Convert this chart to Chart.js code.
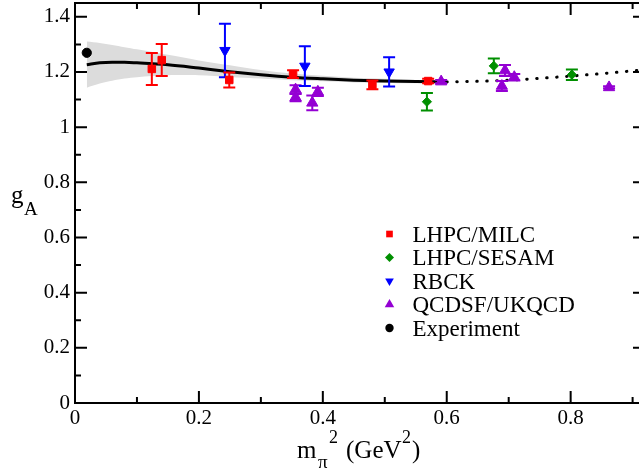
<!DOCTYPE html>
<html>
<head>
<meta charset="utf-8">
<script src="https://cdn.jsdelivr.net/npm/chart.js@4.4.0/dist/chart.umd.min.js"></script>
<style>
  html, body { margin: 0; padding: 0; background: #fff; overflow: hidden; }
</style>
</head>
<body>
<canvas id="gaChart" width="660" height="470"></canvas>
<script>
// ---- data ----
const milcX = [0.124, 0.140, 0.249, 0.352, 0.480, 0.570];
const milcY = [1.211, 1.243, 1.171, 1.192, 1.153, 1.167];
const milcErr = [0.058, 0.058, 0.027, 0.014, 0.016, 0.008];

const sesamX = [0.568, 0.676, 0.802];
const sesamY = [1.092, 1.222, 1.190];
const sesamErr = [0.032, 0.027, 0.019];

const rbckX = [0.242, 0.371, 0.507];
const rbckY = [1.278, 1.221, 1.200];
const rbckErr = [0.097, 0.072, 0.053];

const qcdsfX = [0.356, 0.356, 0.383, 0.392, 0.591, 0.689, 0.694, 0.709, 0.862];
const qcdsfY = [1.136, 1.108, 1.088, 1.128, 1.165, 1.149, 1.205, 1.181, 1.144];
const qcdsfErr = [0.016, 0.014, 0.027, 0.015, 0.006, 0.018, 0.020, 0.012, 0.004];

const expX = [0.019];
const expY = [1.2695];

// chiral fit (solid) and its error band
const fitX = [0.019, 0.04, 0.06, 0.08, 0.1, 0.15, 0.2, 0.25, 0.3, 0.35, 0.4, 0.45, 0.5, 0.55, 0.6];
const fitY = [1.226, 1.233, 1.235, 1.235, 1.233, 1.226, 1.214, 1.201, 1.19, 1.181, 1.175, 1.170, 1.167, 1.165, 1.164];
const bandHi = [1.31, 1.305, 1.298, 1.29, 1.282, 1.262, 1.242, 1.224, 1.207, 1.194, 1.186, 1.179, 1.175, 1.171, 1.168];
const bandLo = [1.143, 1.158, 1.168, 1.176, 1.181, 1.188, 1.188, 1.182, 1.176, 1.170, 1.166, 1.162, 1.160, 1.159, 1.160];

// extrapolation (dotted)
const extX = [0.6, 0.65, 0.7, 0.75, 0.8, 0.85, 0.9, 0.92];
const extY = [1.164, 1.166, 1.170, 1.177, 1.185, 1.194, 1.204, 1.208];

// axis ticks
const xTickLabels = [0, 0.2, 0.4, 0.6, 0.8];
const xMinor = [0.1, 0.3, 0.5, 0.7, 0.9];
const yTickLabels = [0, 0.2, 0.4, 0.6, 0.8, 1, 1.2, 1.4];
const yMinor = [0.1, 0.3, 0.5, 0.7, 0.9, 1.1, 1.3];

const FONT = "'Liberation Serif', 'Times New Roman', serif";

function pts(xs, ys) {
  return xs.map((x, i) => ({ x: x, y: ys[i] }));
}

function fmt(v) {
  return String(Math.round(v * 10) / 10);
}

// error bars, drawn right after each marker dataset
const errorBars = {
  id: 'errorBars',
  afterDatasetDraw(chart, args) {
    const ds = chart.data.datasets[args.index];
    if (!ds.errors) return;
    const ctx = chart.ctx, xs = chart.scales.x, ys = chart.scales.y;
    ctx.save();
    ctx.strokeStyle = ds.borderColor;
    ctx.lineWidth = 2;
    ds.data.forEach((p, i) => {
      const e = ds.errors[i];
      if (!e) return;
      const px = xs.getPixelForValue(p.x);
      const top = ys.getPixelForValue(p.y + e);
      const bot = ys.getPixelForValue(p.y - e);
      ctx.beginPath();
      ctx.moveTo(px, top); ctx.lineTo(px, bot);
      ctx.moveTo(px - 6, top); ctx.lineTo(px + 6, top);
      ctx.moveTo(px - 6, bot); ctx.lineTo(px + 6, bot);
      ctx.stroke();
    });
    ctx.restore();
  }
};

// frame with inward ticks on all four sides
const frame = {
  id: 'frame',
  afterDraw(chart) {
    const ctx = chart.ctx, a = chart.chartArea;
    const xs = chart.scales.x, ys = chart.scales.y;
    ctx.save();
    ctx.strokeStyle = '#000';
    ctx.lineWidth = 2;
    ctx.strokeRect(a.left, a.top, a.right - a.left, a.bottom - a.top);
    ctx.beginPath();
    const xt = (v, len) => {
      const px = xs.getPixelForValue(v);
      ctx.moveTo(px, a.bottom); ctx.lineTo(px, a.bottom - len);
      ctx.moveTo(px, a.top); ctx.lineTo(px, a.top + len);
    };
    const yt = (v, len) => {
      const py = ys.getPixelForValue(v);
      ctx.moveTo(a.left, py); ctx.lineTo(a.left + len, py);
      ctx.moveTo(a.right, py); ctx.lineTo(a.right - len, py);
    };
    xTickLabels.forEach(v => xt(v, 12));
    xMinor.forEach(v => xt(v, 6));
    yTickLabels.forEach(v => yt(v, 12));
    yMinor.forEach(v => yt(v, 6));
    ctx.stroke();
    ctx.restore();
  }
};

// axis titles with sub/superscripts
const titles = {
  id: 'titles',
  afterDraw(chart) {
    const ctx = chart.ctx;
    ctx.save();
    ctx.fillStyle = '#000';
    ctx.textBaseline = 'alphabetic';
    ctx.textAlign = 'left';
    // g_A
    ctx.font = '25px ' + FONT;
    ctx.fillText('g', 11, 203);
    ctx.font = '19px ' + FONT;
    ctx.fillText('A', 24, 215);
    // m_pi^2 (GeV^2)
    ctx.font = '25px ' + FONT;
    ctx.fillText('m', 297, 458);
    ctx.font = '19px ' + FONT;
    ctx.fillText('\u03c0', 318, 468);
    ctx.font = '18px ' + FONT;
    ctx.fillText('2', 329, 443);
    ctx.font = '25px ' + FONT;
    ctx.fillText('(GeV', 346, 458);
    ctx.font = '18px ' + FONT;
    ctx.fillText('2', 402, 443);
    ctx.font = '25px ' + FONT;
    ctx.fillText(')', 412, 458);
    ctx.restore();
  }
};

// legend inside the plot, lower right
const legendRows = [234, 257.5, 281, 304.5, 328];
const insideLegend = {
  id: 'insideLegend',
  afterDraw(chart) {
    const ctx = chart.ctx;
    const items = chart.data.datasets.filter(d => d.legendSize);
    ctx.save();
    items.forEach((d, i) => {
      const y = legendRows[i];
      ctx.fillStyle = d.backgroundColor;
      ctx.strokeStyle = d.borderColor;
      Chart.helpers.drawPoint(ctx, {
        pointStyle: d.pointStyle,
        rotation: d.rotation || 0,
        radius: d.legendSize,
        borderWidth: 0
      }, 389.5, y);
      ctx.fillStyle = '#000';
      ctx.font = '23px ' + FONT;
      ctx.textAlign = 'left';
      ctx.textBaseline = 'alphabetic';
      ctx.fillText(d.label, 412.5, y + 7.5);
    });
    ctx.restore();
  }
};

function markers(label, xs, ys, errs, color, style, radius, legendSize, rotation) {
  return {
    label: label,
    data: pts(xs, ys),
    errors: errs,
    pointStyle: style,
    rotation: rotation || 0,
    pointRotation: rotation || 0,
    pointRadius: radius,
    pointBackgroundColor: color,
    pointBorderColor: color,
    pointBorderWidth: 1,
    backgroundColor: color,
    borderColor: color,
    legendSize: legendSize,
    order: 1
  };
}

new Chart(document.getElementById('gaChart'), {
  type: 'scatter',
  data: {
    datasets: [
      markers('LHPC/MILC', milcX, milcY, milcErr, '#ff0000', 'rect', 5.3, 4.7),
      markers('LHPC/SESAM', sesamX, sesamY, sesamErr, '#008f00', 'rectRot', 4.6, 4.5),
      markers('RBCK', rbckX, rbckY, rbckErr, '#0000ff', 'triangle', 6, 5, 180),
      markers('QCDSF/UKQCD', qcdsfX, qcdsfY, qcdsfErr, '#9400d3', 'triangle', 6.5, 5.5),
      markers('Experiment', expX, expY, null, '#000000', 'circle', 4.6, 4.2),
      {
        type: 'line', label: 'fit', data: pts(fitX, fitY),
        borderColor: '#000', borderWidth: 3, pointRadius: 0,
        cubicInterpolationMode: 'monotone', fill: false, order: 5
      },
      {
        type: 'line', label: 'extrapolation', data: pts(extX, extY),
        borderColor: '#000', borderWidth: 3, borderDash: [0.5, 9.5],
        borderCapStyle: 'round', pointRadius: 0,
        cubicInterpolationMode: 'monotone', fill: false, order: 5
      },
      {
        type: 'line', label: 'band hi', data: pts(fitX, bandHi),
        borderWidth: 0, borderColor: 'rgba(0,0,0,0)', pointRadius: 0,
        backgroundColor: '#dcdcdc', fill: '+1', tension: 0.3, order: 10
      },
      {
        type: 'line', label: 'band lo', data: pts(fitX, bandLo),
        borderWidth: 0, borderColor: 'rgba(0,0,0,0)', pointRadius: 0,
        fill: false, tension: 0.3, order: 10
      }
    ]
  },
  options: {
    responsive: false,
    animation: false,
    layout: { autoPadding: false, padding: { top: 3, right: 15, left: 0, bottom: 0 } },
    plugins: {
      legend: { display: false },
      tooltip: { enabled: false }
    },
    scales: {
      x: {
        type: 'linear', min: 0, max: 0.92,
        grid: { display: false, drawTicks: false },
        border: { display: false },
        afterBuildTicks: s => { s.ticks = xTickLabels.map(v => ({ value: v })); },
        afterFit: s => { s.height = 67; s.paddingLeft = 0; s.paddingRight = 0; },
        ticks: {
          padding: 3, color: '#000', maxRotation: 0, autoSkip: false,
          font: { family: FONT, size: 21 }, callback: fmt
        }
      },
      y: {
        type: 'linear', min: 0, max: 1.45,
        grid: { display: false, drawTicks: false },
        border: { display: false },
        afterBuildTicks: s => { s.ticks = yTickLabels.map(v => ({ value: v })); },
        afterFit: s => { s.width = 75; s.paddingTop = 0; s.paddingBottom = 0; },
        ticks: {
          padding: 5, color: '#000', autoSkip: false,
          font: { family: FONT, size: 21 }, callback: fmt
        }
      }
    }
  },
  plugins: [errorBars, frame, titles, insideLegend]
});
</script>
</body>
</html>
